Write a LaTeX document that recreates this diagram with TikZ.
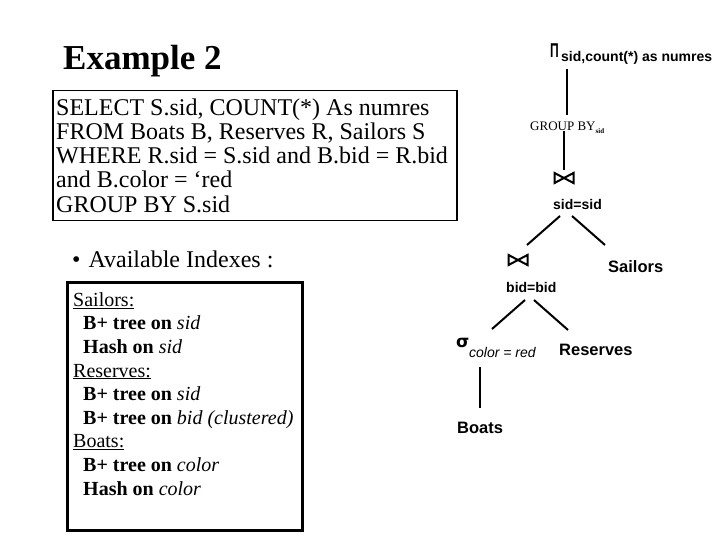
\documentclass[tikz,border=0pt]{standalone}
\usepackage{fontspec}
\setmainfont{Liberation Serif}
\setsansfont{Liberation Sans}
\newfontfamily\djv{DejaVu Sans}
\begin{document}
\begin{tikzpicture}[x=1pt,y=-1pt,
  lbl/.style={inner sep=0pt, anchor=base west},
  block/.style={inner sep=0pt, anchor=north west, align=left},
  treelbl/.style={lbl, font=\sffamily\bfseries\fontsize{14}{16}\selectfont},
  relname/.style={lbl, font=\sffamily\bfseries\fontsize{16.5}{18}\selectfont},
  edge/.style={line width=2pt},
  bowtie/.style={inner sep=0pt, minimum width=21pt, minimum height=12.5pt,
    path picture={\draw[line width=2pt, line join=miter]
      ([shift={(1pt,1.2pt)}]path picture bounding box.south west) --
      ([shift={(1pt,-1.2pt)}]path picture bounding box.north west) --
      ([shift={(-1pt,1.2pt)}]path picture bounding box.south east) --
      ([shift={(-1pt,-1.2pt)}]path picture bounding box.north east) -- cycle;}}
]
\useasboundingbox (0,0) rectangle (720,540);
\fill[white] (0,0) rectangle (720,540);

% Title
\node[lbl, font=\bfseries\fontsize{35}{42}\selectfont] (title) at (63,70) {Example 2};

% SQL box
\node[draw, line width=1.5pt, inner sep=0pt, minimum width=404pt, minimum height=130pt, anchor=north west] (sqlbox) at (52,90) {};
\node[block, font=\fontsize{24}{24.2}\selectfont] (sql) at (56,95)
  {\rule{0pt}{20pt}SELECT S.sid, COUNT(*) As numres\\
   FROM Boats B, Reserves R, Sailors S\\
   WHERE R.sid = S.sid and B.bid = R.bid\\
   and B.color = `red\\
   GROUP BY S.sid};

% Available indexes
\node[lbl, font=\fontsize{24}{28}\selectfont] (avail) at (72,267) {\textbullet\hspace{8pt}Available Indexes :};

\node[draw, line width=2.5pt, inner sep=0pt, minimum width=235pt, minimum height=248pt, anchor=north west] (idxbox) at (66,281) {};
\node[block, font=\fontsize{20}{23.6}\selectfont] (idx) at (73,289)
  {\rule{0pt}{17pt}\underline{Sailors:}\\
   \hspace*{10pt}\textbf{B+ tree on} \textit{sid}\\
   \hspace*{10pt}\textbf{Hash on} \textit{sid}\\
   \underline{Reserves:}\\
   \hspace*{10pt}\textbf{B+ tree on} \textit{sid}\\
   \hspace*{10pt}\textbf{B+ tree on} \textit{bid (clustered)}\\
   \underline{Boats:}\\
   \hspace*{10pt}\textbf{B+ tree on} \textit{color}\\
   \hspace*{10pt}\textbf{Hash on} \textit{color}};

% Query tree
\node[lbl, font=\sffamily\bfseries\fontsize{20}{20}\selectfont] (pi) at (550,58) {\scalebox{0.6}[1]{Π}};
\node[treelbl] (pisub) at (561,62) {sid,count(*) as numres};

\node[lbl, font=\fontsize{13}{13}\selectfont] (gb) at (530,131) {GROUP BY\raisebox{-3pt}{\fontsize{7}{7}\selectfont\bfseries sid}};

\node[bowtie] (j1) at (564,178) {};
\node[treelbl] (j1c) at (553,210) {sid=sid};

\node[bowtie] (j2) at (518,260) {};
\node[treelbl] (j2c) at (506,292) {bid=bid};
\node[relname] (sailors) at (608,272) {Sailors};

\node[lbl, font=\djv\bfseries\fontsize{17}{17}\selectfont] (sigma) at (456,347) {σ};
\node[lbl, font=\sffamily\itshape\fontsize{14}{14}\selectfont] (sigsub) at (469,357) {color = red};
\node[relname] (reserves) at (559,355) {Reserves};
\node[relname] (boats) at (457,433) {Boats};

% connector end points
\coordinate (piB) at (567,69);
\coordinate (gbT) at (567,115);
\coordinate (gbB) at (564,131);
\coordinate (j1T) at (564,170);
\coordinate (j1L) at (560,216);
\coordinate (j2T) at (527,245);
\coordinate (j1R) at (572,216);
\coordinate (saT) at (605,245);
\coordinate (j2L) at (525,300);
\coordinate (sgT) at (492,329);
\coordinate (j2R) at (534,300);
\coordinate (reT) at (568,330);
\coordinate (sgB) at (480,367);
\coordinate (boT) at (480,408);

\draw[edge] (piB) -- (gbT);
\draw[edge] (gbB) -- (j1T);
\draw[edge] (j1L) -- (j2T);
\draw[edge] (j1R) -- (saT);
\draw[edge] (j2L) -- (sgT);
\draw[edge] (j2R) -- (reT);
\draw[edge] (sgB) -- (boT);
\end{tikzpicture}
\end{document}
